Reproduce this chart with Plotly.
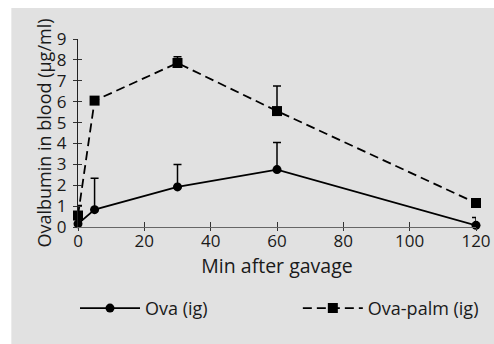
import plotly.graph_objects as go

# ---- data ----
time_min = [0, 5, 30, 60, 120]
ova = [0.15, 0.83, 1.92, 2.75, 0.08]
ova_err = [0.1, 1.5, 1.07, 1.3, 0.37]
ova_palm = [0.55, 6.05, 7.85, 5.55, 1.15]
ova_palm_err = [0.48, 0.0, 0.3, 1.2, 0.1]
x_ticks = [0, 20, 40, 60, 80, 100, 120]
y_ticks = [0, 1, 2, 3, 4, 5, 6, 7, 8, 9]
series_names = ["Ova (ig)", "Ova-palm (ig)"]

FONT = "Open Sans, DejaVu Sans, sans-serif"
TXT = "#1a1a1a"

W, H = 494, 344
PW, PH = 398.3, 187.7
ML, MT = 77.7, 39.0

fig = go.Figure()
fig.add_trace(go.Scatter(
    x=time_min, y=ova, name=series_names[0], mode="lines+markers",
    line=dict(color="black", width=1.8),
    marker=dict(symbol="circle", size=9, color="black"),
    error_y=dict(type="data", symmetric=False, array=ova_err,
                 arrayminus=[0] * len(ova_err), color="black", thickness=1.5, width=4),
    cliponaxis=False, legend="legend",
))
fig.add_trace(go.Scatter(
    x=time_min, y=ova_palm, name=series_names[1], mode="lines+markers",
    line=dict(color="black", width=1.8, dash="9px,5px"),
    marker=dict(symbol="square", size=10, color="black"),
    error_y=dict(type="data", symmetric=False, array=ova_palm_err,
                 arrayminus=[0] * len(ova_palm_err), color="black", thickness=1.5, width=4),
    cliponaxis=False, legend="legend2",
))
# empty trace to create overlay axes for crossing ticks
fig.add_trace(go.Scatter(x=[], y=[], xaxis="x2", yaxis="y2", showlegend=False, hoverinfo="skip"))

legend_common = dict(orientation="h", y=-0.433, xanchor="left", yanchor="middle",
                     bgcolor="rgba(0,0,0,0)", font=dict(size=18, color=TXT), itemwidth=60)

fig.update_layout(
    width=W, height=H,
    margin=dict(l=ML, r=W - ML - PW, t=MT, b=H - MT - PH, pad=0, autoexpand=False),
    paper_bgcolor="white", plot_bgcolor="rgba(0,0,0,0)",
    font=dict(family=FONT, size=17, color=TXT),
    shapes=[dict(type="rect", xref="paper", yref="paper", layer="below",
                 x0=(11 - ML) / PW, x1=(W - ML) / PW,
                 y0=-(H - MT - PH) / PH, y1=1 + (MT - 8) / PH,
                 fillcolor="#e1e1e1", line=dict(width=0))],
    xaxis=dict(range=[0, 120], tickvals=x_ticks, ticks="outside", ticklen=3,
               tickwidth=1, tickcolor="#333", showline=True, linecolor="#666",
               linewidth=1, showgrid=False, zeroline=False, automargin=False,
               ticklabelstandoff=-4,
               tickfont=dict(size=17, color=TXT),
               title=dict(text="Min after gavage", font=dict(size=19.5, color=TXT), standoff=6)),
    yaxis=dict(range=[0, 9], tickvals=y_ticks, ticks="outside", ticklen=4,
               tickwidth=1, tickcolor="#333", showline=True, linecolor="#222",
               linewidth=1, showgrid=False, zeroline=False, ticklabelstandoff=3,
               automargin=False,
               tickfont=dict(size=17, color=TXT),
               title=dict(text="Ovalbumin in blood (μg/ml)", font=dict(size=18, color=TXT), standoff=0)),
    xaxis2=dict(range=[0, 120], overlaying="x", tickvals=x_ticks, ticks="inside",
                ticklen=5, tickwidth=1, tickcolor="#333", showticklabels=False,
                showline=False, showgrid=False, zeroline=False),
    yaxis2=dict(range=[0, 9], overlaying="y", tickvals=y_ticks, ticks="inside",
                ticklen=4, tickwidth=1, tickcolor="#333", showticklabels=False,
                showline=False, showgrid=False, zeroline=False),
    legend=dict(x=-3 / PW, **legend_common),
    legend2=dict(x=220 / PW, **legend_common),
    showlegend=True,
)

fig.write_html(
    "out.html",
    config={"displayModeBar": False},
    post_script="document.body.style.margin='0';document.body.style.overflow='hidden';",
)
